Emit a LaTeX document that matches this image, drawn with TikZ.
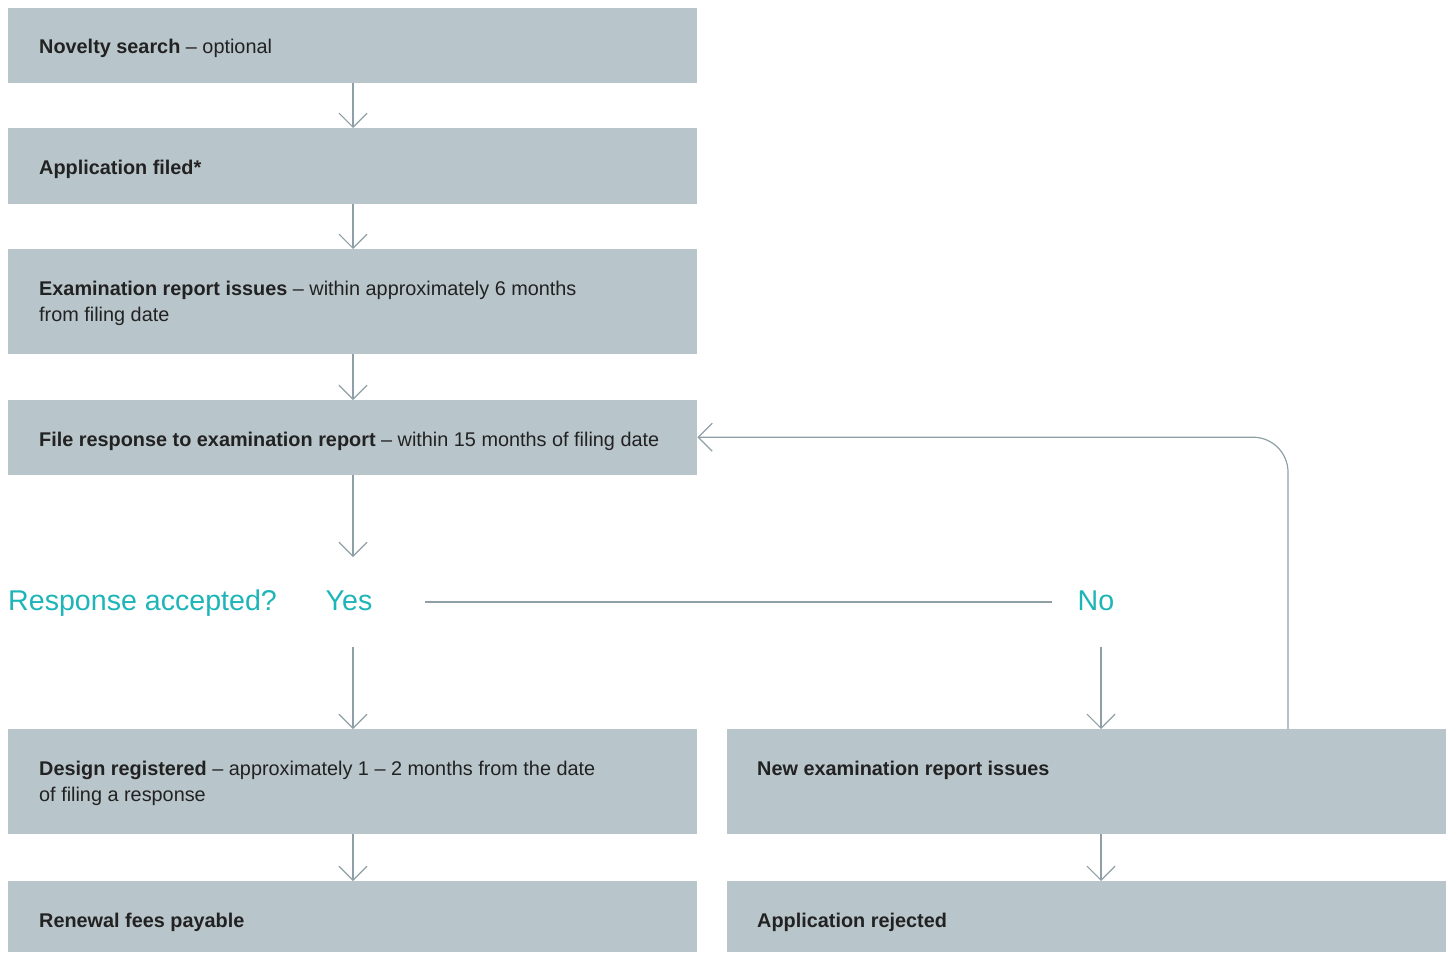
\documentclass[tikz,border=0pt]{standalone}
\usepackage{fontspec}
\setmainfont{Liberation Sans}
\usetikzlibrary{arrows.meta}
\definecolor{boxfill}{HTML}{B8C5CA}
\definecolor{linec}{HTML}{8E9FA5}
\definecolor{teal}{HTML}{1DB5B8}
\definecolor{txt}{HTML}{222222}
\tikzset{
  box/.style={fill=boxfill, draw=none, anchor=north west, inner sep=0pt, minimum width=#1},
  box/.default=689pt,
  lbl/.style={anchor=base west, align=left, inner sep=0pt, text=txt, font=\fontsize{19.85}{26}\selectfont},
  arr/.style={draw=linec, line width=1.2pt, -{Straight Barb[length=14pt,width=28pt,line width=1.2pt]}},
  plain/.style={draw=linec, line width=1.2pt},
  tealtxt/.style={text=teal, font=\fontsize{28.6}{32}\selectfont, inner sep=0pt}
}
\begin{document}
\begin{tikzpicture}[x=1pt,y=-1pt]
\useasboundingbox (0,0) rectangle (1451,953);
\node[box, minimum height=75pt] (n1) at (8,8) {};
\node[box, minimum height=76pt] (n2) at (8,128) {};
\node[box, minimum height=105pt] (n3) at (8,249) {};
\node[box, minimum height=75pt] (n4) at (8,400) {};
\node[box, minimum height=105pt] (n5) at (8,729) {};
\node[box, minimum height=71pt] (n6) at (8,881) {};
\node[box=719pt, minimum height=105pt] (n7) at (727,729) {};
\node[box=719pt, minimum height=71pt] (n8) at (727,881) {};

\node[lbl] (t1) at (39,53) {\textbf{Novelty search} -- optional};
\node[lbl] (t2) at (39,174) {\textbf{Application filed*}};
\node[lbl] (t3) at (39,295) {\textbf{Examination report issues} -- within approximately 6 months};
\node[lbl] (t3b) at (39,321) {from filing date};
\node[lbl] (t4) at (39,446) {\textbf{File response to examination report} -- within 15 months of filing date};
\node[lbl] (t5) at (39,775) {\textbf{Design registered} -- approximately 1 -- 2 months from the date};
\node[lbl] (t5b) at (39,801) {of filing a response};
\node[lbl] (t6) at (39,927) {\textbf{Renewal fees payable}};
\node[lbl] (t7) at (757,775) {\textbf{New examination report issues}};
\node[lbl] (t8) at (757,927) {\textbf{Application rejected}};

\node[tealtxt, anchor=base west] (q) at (8,610) {Response accepted?};
\node[tealtxt, anchor=base] (yes) at (349,610) {Yes};
\node[tealtxt, anchor=base] (no) at (1096,610) {No};

\coordinate (hl) at (425,602);
\coordinate (hr) at (1052,602);
\coordinate (a1) at (353,557);
\coordinate (a2) at (353,647);
\coordinate (b1) at (1101,647);
\coordinate (b2) at (1101,729);
\coordinate (b3) at (1101,834);
\coordinate (b4) at (1101,881);
\coordinate (c1) at (1288,729);

\draw[arr] (n1.south -| a1) -- (n2.north -| a1);
\draw[arr] (n2.south -| a1) -- (n3.north -| a1);
\draw[arr] (n3.south -| a1) -- (n4.north -| a1);
\draw[arr] (n4.south -| a1) -- (a1);
\draw[plain] (hl) -- (hr);
\draw[arr] (a2) -- (n5.north -| a2);
\draw[arr] (n5.south -| a2) -- (n6.north -| a2);
\draw[arr] (b1) -- (b2);
\draw[arr] (b3) -- (b4);
\draw[arr, rounded corners=35pt] (c1) |- ([yshift=0.5pt]n4.east);
\end{tikzpicture}
\end{document}
